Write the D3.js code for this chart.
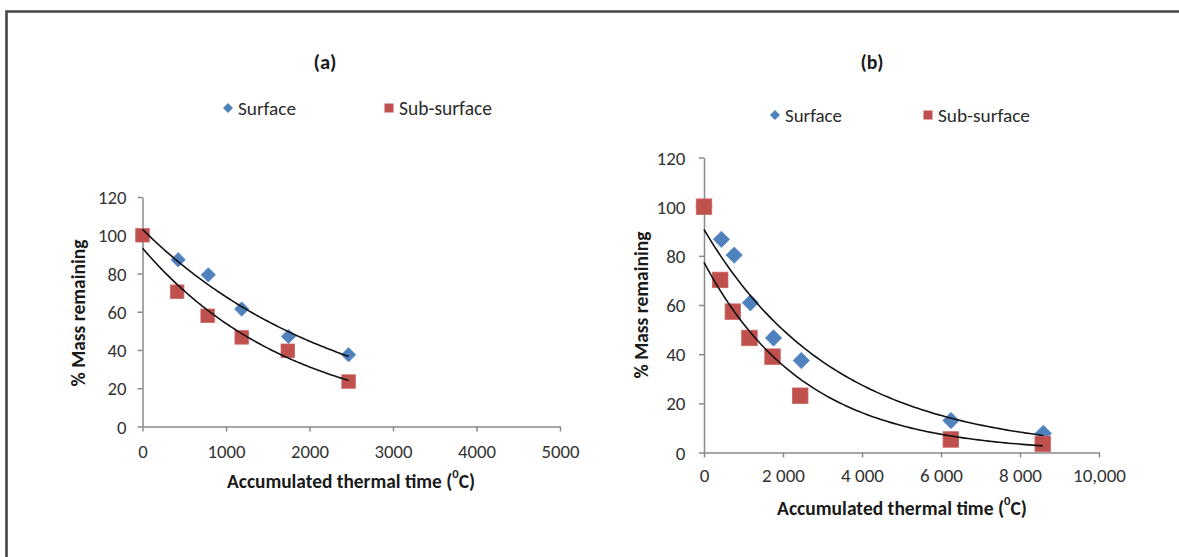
<!DOCTYPE html>
<html>
<head>
<meta charset="utf-8">
<script src="https://cdn.jsdelivr.net/npm/d3@7"></script>
<style>
  html, body { margin: 0; padding: 0; background: #fff; }
  svg { display: block; font-family: Carlito, Lato, "Open Sans", sans-serif; }
</style>
</head>
<body>
<svg id="chart" width="1179" height="557"></svg>
<script>
// ---------- data ----------
const panelTitles = ["(a)", "(b)"];
const seriesNames = ["Surface", "Sub-surface"];
const seriesColors = ["#4F81BD", "#C0504D"];

const aSurfaceX = [0, 427, 788, 1188, 1748, 2468];
const aSurfaceY = [100, 87.2, 79.3, 61.4, 47.1, 37.5];
const aSubX     = [0, 415, 780, 1188, 1740, 2468];
const aSubY     = [100, 70.5, 57.9, 46.6, 39.6, 23.5];

const bSurfaceX = [0, 440, 765, 1175, 1760, 2464, 6253, 8590];
const bSurfaceY = [100, 86.7, 80.3, 60.9, 46.6, 37.4, 13.0, 7.8];
const bSubX     = [0, 410, 730, 1150, 1735, 2436, 6248, 8575];
const bSubY     = [100, 70.2, 57.3, 46.6, 39.0, 23.1, 5.3, 3.5];

const aXTicks = [0, 1000, 2000, 3000, 4000, 5000];
const aXTickLabels = ["0", "1000", "2000", "3000", "4000", "5000"];
const bXTicks = [0, 2000, 4000, 6000, 8000, 10000];
const bXTickLabels = ["0", "2 000", "4 000", "6 000", "8 000", "10,000"];
const yTicks = [0, 20, 40, 60, 80, 100, 120];

const xLabel = "Accumulated thermal time (";
const yLabel = "% Mass remaining";

// ---------- helpers ----------
const svg = d3.select("#chart");

svg.append("path")
  .attr("d", "M6.5,1000 L6.5,11.5 L1300,11.5")
  .attr("fill", "none").attr("stroke", "#454545").attr("stroke-width", 2.6);

// scale a text's font so its rendered width matches the reference width
function fitWidth(sel, target) {
  const w = sel.node().getComputedTextLength();
  const fs = parseFloat(sel.attr("font-size"));
  if (w > 0) sel.attr("font-size", fs * target / w);
  return sel;
}

// Excel-style exponential trendline: least squares on ln(y)
function expFit(xs, ys) {
  const n = xs.length;
  const ly = ys.map(Math.log);
  const mx = d3.mean(xs), my = d3.mean(ly);
  let sxy = 0, sxx = 0;
  for (let i = 0; i < n; i++) { sxy += (xs[i]-mx)*(ly[i]-my); sxx += (xs[i]-mx)**2; }
  const b = sxy / sxx;
  const a = Math.exp(my - b*mx);
  return x => a * Math.exp(b * x);
}

function drawPanel(cfg) {
  const g = svg.append("g");
  const x = d3.scaleLinear().domain(cfg.xDomain).range(cfg.xRange);
  const y = d3.scaleLinear().domain([0, 120]).range(cfg.yRange);

  const yAxis = g.append("g").attr("transform", `translate(${cfg.xRange[0]},0)`)
    .call(d3.axisLeft(y).tickValues(yTicks).tickSize(5).tickSizeOuter(0));
  const xAxis = g.append("g").attr("transform", `translate(0,${cfg.yRange[0]})`)
    .call(d3.axisBottom(x).tickValues(cfg.xTicks).tickSize(5).tickSizeOuter(0)
      .tickFormat((d, i) => cfg.xTickLabels[i]));
  [xAxis, yAxis].forEach(ax => {
    ax.select(".domain").attr("stroke", "#8a8a8a").attr("stroke-width", 1.5);
    ax.selectAll(".tick line").attr("stroke", "#8a8a8a").attr("stroke-width", 1.5);
    ax.selectAll(".tick text").attr("font-size", 19).attr("fill", "#333")
      .attr("font-family", "Carlito, Lato, sans-serif");
  });
  // calibrate tick font size from one reference label
  const refTick = xAxis.selectAll(".tick text").filter((d, i) => i === cfg.refTickIndex);
  fitWidth(refTick, cfg.refTickWidth);
  const tickFs = refTick.attr("font-size");
  xAxis.selectAll(".tick text").attr("font-size", tickFs)
    .attr("y", cfg.xTickDy).attr("dy", "0").attr("dominant-baseline", "central");
  yAxis.selectAll(".tick text").attr("font-size", tickFs)
    .attr("x", -cfg.yTickDx).attr("dy", "0").attr("dominant-baseline", "central");

  // surface diamonds
  const ds = cfg.dSize;
  g.append("g").selectAll("path").data(cfg.sX.map((v, i) => [v, cfg.sY[i]])).join("path")
    .attr("d", d => `M${x(d[0])},${y(d[1])-ds} L${x(d[0])+ds},${y(d[1])} L${x(d[0])},${y(d[1])+ds} L${x(d[0])-ds},${y(d[1])} Z`)
    .attr("fill", seriesColors[0]).attr("stroke", "#5a8ccc").attr("stroke-width", 0.8);
  // sub-surface squares
  const ss = cfg.sqSize;
  g.append("g").selectAll("rect").data(cfg.bX.map((v, i) => [v, cfg.bY[i]])).join("rect")
    .attr("x", d => x(d[0]) - ss/2).attr("y", d => y(d[1]) - ss/2)
    .attr("width", ss).attr("height", ss)
    .attr("fill", seriesColors[1]).attr("stroke", "#cd6461").attr("stroke-width", 0.8);

  // trendlines
  const line = d3.line().x(d => x(d[0])).y(d => y(d[1]));
  [[cfg.sX, cfg.sY], [cfg.bX, cfg.bY]].forEach(([xs, ys]) => {
    const f = expFit(xs, ys);
    const xmax = d3.max(xs);
    const pts = d3.range(0, 101).map(k => { const xv = xmax * k / 100; return [xv, f(xv)]; });
    g.append("path").attr("d", line(pts)).attr("fill", "none")
      .attr("stroke", "#111").attr("stroke-width", 1.6);
  });

  // title
  const t = svg.append("text").attr("x", cfg.titleX).attr("y", cfg.titleY)
    .attr("text-anchor", "middle").attr("dominant-baseline", "central")
    .attr("font-size", 18).attr("font-weight", "bold").attr("fill", "#1a1a1a")
    .text(cfg.title);
  fitWidth(t, 23);

  // legend
  const lg = svg.append("g").attr("fill", "#2a2a2a");
  const ly = cfg.legendY;
  lg.append("path")
    .attr("d", `M${cfg.legD},${ly-5} L${cfg.legD+5},${ly} L${cfg.legD},${ly+5} L${cfg.legD-5},${ly} Z`)
    .attr("fill", seriesColors[0]);
  const t1 = lg.append("text").attr("x", cfg.legD + 10).attr("y", ly).attr("dominant-baseline", "central")
    .attr("font-size", 19).text(seriesNames[0]);
  fitWidth(t1, cfg.legW1);
  lg.append("rect").attr("x", cfg.legS - 4.5).attr("y", ly - 4.5).attr("width", 9).attr("height", 9)
    .attr("fill", seriesColors[1]);
  const t2 = lg.append("text").attr("x", cfg.legS + 10).attr("y", ly).attr("dominant-baseline", "central")
    .attr("font-size", 19).text(seriesNames[1]);
  fitWidth(t2, cfg.legW2);

  // axis titles
  const xt = svg.append("text").attr("x", cfg.xLabelX).attr("y", cfg.xLabelY)
    .attr("text-anchor", "middle").attr("dominant-baseline", "central")
    .attr("font-size", 18).attr("font-weight", "bold").attr("fill", "#1a1a1a");
  xt.append("tspan").text(xLabel);
  xt.append("tspan").attr("font-size", "65%").attr("dy", "-0.6em").text("0");
  xt.append("tspan").attr("dy", "0.4em").text("C)");
  fitWidth(xt, cfg.xLabelW);

  const yt = svg.append("text")
    .attr("transform", `translate(${cfg.yLabelX},${cfg.yLabelY}) rotate(-90)`)
    .attr("text-anchor", "middle").attr("dominant-baseline", "central")
    .attr("font-size", 18).attr("font-weight", "bold").attr("fill", "#1a1a1a")
    .text(yLabel);
  fitWidth(yt, 147);
}

drawPanel({
  xDomain: [0, 5000], xRange: [142.5, 560], yRange: [426.5, 197],
  xTicks: aXTicks, xTickLabels: aXTickLabels, refTickIndex: 1, refTickWidth: 38,
  xTickDy: 24.5, yTickDx: 16,
  sX: aSurfaceX, sY: aSurfaceY, bX: aSubX, bY: aSubY,
  dSize: 7.2, sqSize: 13.5,
  title: panelTitles[0], titleX: 325, titleY: 62,
  legendY: 108, legD: 228, legS: 389, legW1: 58, legW2: 93,
  xLabelX: 351, xLabelY: 481, xLabelW: 248, yLabelX: 78, yLabelY: 313
});

drawPanel({
  xDomain: [0, 10000], xRange: [704, 1099], yRange: [452.5, 157.5],
  xTicks: bXTicks, xTickLabels: bXTickLabels, refTickIndex: 5, refTickWidth: 53,
  xTickDy: 22.5, yTickDx: 18.5,
  sX: bSurfaceX, sY: bSurfaceY, bX: bSubX, bY: bSubY,
  dSize: 8.2, sqSize: 15.5,
  title: panelTitles[1], titleX: 872, titleY: 62,
  legendY: 115, legD: 775, legS: 928, legW1: 57, legW2: 92,
  xLabelX: 902, xLabelY: 508, xLabelW: 250, yLabelX: 641, yLabelY: 305
});
</script>
</body>
</html>
